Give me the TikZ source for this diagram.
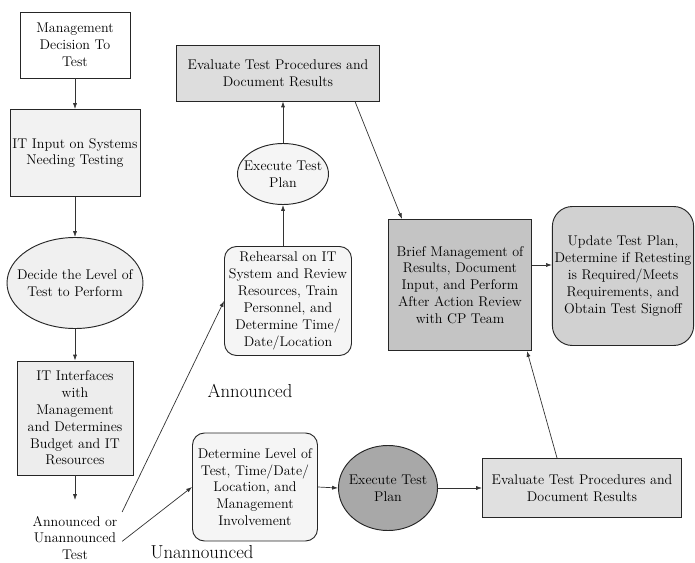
\documentclass[tikz,border=0pt]{standalone}
\usepackage{xcolor}
\usetikzlibrary{shapes.geometric,arrows.meta}

\tikzset{
  stepbox/.style={draw=black!85,line width=.8pt,align=center,
    font=\fontsize{12}{14.4}\selectfont,inner sep=2pt},
  roundbox/.style={stepbox,rounded corners=.36cm},
  oval/.style={stepbox,ellipse,inner xsep=-12pt,inner ysep=0pt},
  arr/.style={draw=black!80,line width=.6pt,-{Latex[length=5pt,width=3.5pt]}},
  bigtext/.style={font=\fontsize{16}{19}\selectfont}
}

\begin{document}
\begin{tikzpicture}[x=0.03cm,y=-0.03cm]
  \useasboundingbox (0,0) rectangle (695,563);

  % left column
  \node[stepbox,fill=white,minimum width=3.3cm,minimum height=1.98cm]
    (mgmt) at (75,45) {Management\\Decision To\\Test};
  \node[stepbox,fill=gray!10,minimum width=3.9cm,minimum height=2.61cm]
    (itinput) at (75,153) {IT Input on Systems\\Needing Testing};
  \node[oval,fill=gray!12,minimum width=4.08cm,minimum height=2.73cm]
    (decide) at (75,283) {Decide the Level of\\Test to Perform};
  \node[stepbox,fill=gray!14,minimum width=3.48cm,minimum height=3.42cm]
    (iface) at (75,418) {IT Interfaces\\with\\Management\\and Determines\\Budget and IT\\Resources};
  \node[align=center,font=\fontsize{12}{14.4}\selectfont,inner xsep=4pt]
    (choice) at (75,538) {Announced or\\Unannounced\\Test};
  \coordinate (choicein) at (75,500);

  % announced branch
  \node[roundbox,fill=gray!8,minimum width=3.81cm,minimum height=3.27cm]
    (rehearse) at (288,301) {Rehearsal on IT\\System and Review\\Resources, Train\\Personnel, and\\Determine Time/\\Date/Location};
  \node[oval,fill=gray!8,minimum width=2.73cm,minimum height=1.83cm]
    (execA) at (283,174) {Execute Test\\Plan};
  \node[stepbox,fill=gray!27,minimum width=6.09cm,minimum height=1.68cm]
    (evalA) at (278,73) {Evaluate Test Procedures and\\Document Results};
  \node[bigtext] (announced) at (250,391) {Announced};

  % unannounced branch
  \node[roundbox,fill=gray!8,minimum width=3.75cm,minimum height=3.24cm]
    (determine) at (255,487) {Determine Level of\\Test, Time/Date/\\Location, and\\Management\\Involvement};
  \node[oval,fill=gray!68,minimum width=2.97cm,minimum height=2.55cm]
    (execU) at (388,488) {Execute Test\\Plan};
  \node[stepbox,fill=gray!24,minimum width=5.97cm,minimum height=1.77cm]
    (evalU) at (582,488) {Evaluate Test Procedures and\\Document Results};
  \node[bigtext] (unannounced) at (202,552) {Unannounced};

  % review and signoff
  \node[stepbox,fill=gray!46,minimum width=4.29cm,minimum height=3.93cm]
    (brief) at (460,285) {Brief Management of\\Results, Document\\Input, and Perform\\After Action Review\\with CP Team};
  \node[roundbox,rounded corners=.6cm,fill=gray!36,minimum width=4.17cm,minimum height=4.17cm]
    (update) at (623,276) {Update Test Plan,\\Determine if Retesting\\is Required/Meets\\Requirements, and\\Obtain Test Signoff};

  % connectors
  \draw[arr] (mgmt) -- (itinput);
  \draw[arr] (itinput) -- (decide);
  \draw[arr] (decide) -- (iface);
  \draw[arr] (iface) -- (choicein);
  \draw[arr] (choice.north east) -- (rehearse.west);
  \draw[arr] ([yshift=-.1cm]choice.east) -- (determine.west);
  \draw[arr] (execA.south |- rehearse.north) -- (execA.south);
  \draw[arr] (execA.north) -- (execA.north |- evalA.south);
  \draw[arr] ([xshift=-.75cm]evalA.south east) -- ([xshift=.42cm]brief.north west);
  \draw[arr] (determine.east) -- (execU.west);
  \draw[arr] (execU.east) -- (evalU.west);
  \draw[arr] ([xshift=2.25cm]evalU.north west) -- ([xshift=-.15cm]brief.south east);
  \path (brief.east) ++(0,-20) coordinate (briefout);
  \draw[arr] (briefout) -- (briefout -| update.west);
\end{tikzpicture}
\end{document}
